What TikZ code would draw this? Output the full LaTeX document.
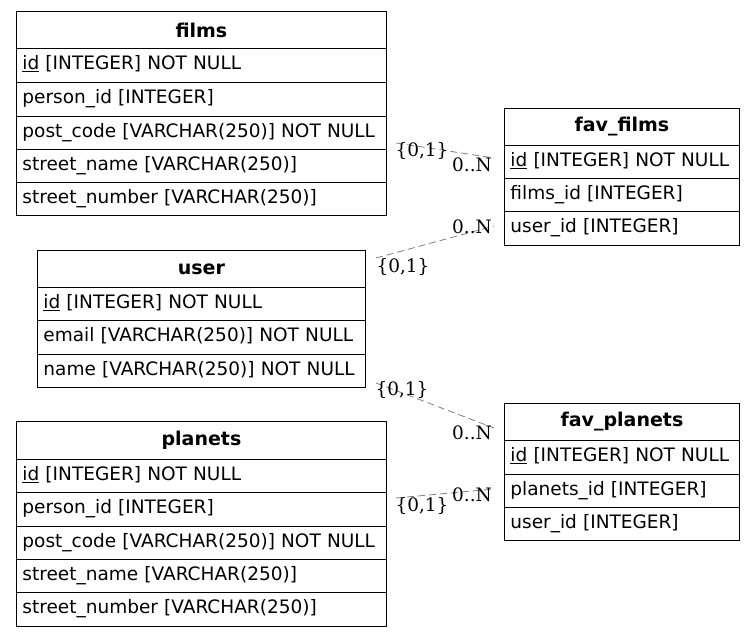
\documentclass[tikz,border=0pt]{standalone}
\usepackage{fontspec}
\setmainfont{DejaVu Sans}
\newfontfamily\lblfont{DejaVu Serif}
\begin{document}
\begin{tikzpicture}[x=1pt,y=-1pt,
  cell/.style={draw=black,line width=0.9pt,anchor=north west,inner xsep=6pt,inner ysep=0pt,text height=14pt,text depth=5.4pt,font=\fontsize{18.5}{20}\selectfont,align=left},
  head/.style={draw=black,line width=0.9pt,anchor=north west,inner sep=0pt,font=\bfseries\fontsize{19}{21}\selectfont,align=center},
  rel/.style={draw=gray,line width=0.8pt,dash pattern=on 7pt off 4pt},
  card/.style={font=\lblfont\fontsize{18.5}{20}\selectfont,inner sep=0pt}]
\useasboundingbox (0,0) rectangle (755,636);
\fill[white] (0,0) rectangle (755,636);
% films
\node[head,minimum width=370pt,minimum height=37pt] (filmsH) at (16,11) {films};
\node[cell,text width=358pt,minimum height=34pt] (films1) at (16,48) {\underline{id} [INTEGER] NOT NULL};
\node[cell,text width=358pt,minimum height=34pt] (films2) at (16,82) {person\_id [INTEGER]};
\node[cell,text width=358pt,minimum height=33pt] (films3) at (16,116) {post\_code [VARCHAR(250)] NOT NULL};
\node[cell,text width=358pt,minimum height=33pt] (films4) at (16,149) {street\_name [VARCHAR(250)]};
\node[cell,text width=358pt,minimum height=33pt] (films5) at (16,182) {street\_number [VARCHAR(250)]};
% fav_films
\node[head,minimum width=235pt,minimum height=37pt] (ffH) at (504,108) {fav\_films};
\node[cell,text width=223pt,minimum height=33pt] (ff1) at (504,145) {\underline{id} [INTEGER] NOT NULL};
\node[cell,text width=223pt,minimum height=33pt] (ff2) at (504,178) {films\_id [INTEGER]};
\node[cell,text width=223pt,minimum height=34pt] (ff3) at (504,211) {user\_id [INTEGER]};
% user
\node[head,minimum width=328pt,minimum height=37pt] (userH) at (37,250) {user};
\node[cell,text width=316pt,minimum height=33pt] (user1) at (37,287) {\underline{id} [INTEGER] NOT NULL};
\node[cell,text width=316pt,minimum height=34pt] (user2) at (37,320) {email [VARCHAR(250)] NOT NULL};
\node[cell,text width=316pt,minimum height=33pt] (user3) at (37,354) {name [VARCHAR(250)] NOT NULL};
% planets
\node[head,minimum width=370pt,minimum height=38pt] (plH) at (16,421) {planets};
\node[cell,text width=358pt,minimum height=33pt] (pl1) at (16,459) {\underline{id} [INTEGER] NOT NULL};
\node[cell,text width=358pt,minimum height=34pt] (pl2) at (16,492) {person\_id [INTEGER]};
\node[cell,text width=358pt,minimum height=33pt] (pl3) at (16,526) {post\_code [VARCHAR(250)] NOT NULL};
\node[cell,text width=358pt,minimum height=33pt] (pl4) at (16,559) {street\_name [VARCHAR(250)]};
\node[cell,text width=358pt,minimum height=34pt] (pl5) at (16,592) {street\_number [VARCHAR(250)]};
% fav_planets
\node[head,minimum width=235pt,minimum height=37pt] (fpH) at (504,403) {fav\_planets};
\node[cell,text width=223pt,minimum height=34pt] (fp1) at (504,440) {\underline{id} [INTEGER] NOT NULL};
\node[cell,text width=223pt,minimum height=33pt] (fp2) at (504,474) {planets\_id [INTEGER]};
\node[cell,text width=223pt,minimum height=33pt] (fp3) at (504,507) {user\_id [INTEGER]};
% connector end points
\coordinate (e1a) at (396,143); \coordinate (e1b) at (494,158);
\coordinate (e2a) at (376,258); \coordinate (e2b) at (494,226);
\coordinate (e3a) at (376,383); \coordinate (e3b) at (494,428);
\coordinate (e4a) at (396,498); \coordinate (e4b) at (494,489);
\draw[rel] (e1a) -- (e1b);
\draw[rel] (e2a) -- (e2b);
\draw[rel] (e3a) -- (e3b);
\draw[rel] (e4a) -- (e4b);
% cardinalities
\node[card] (c1a) at (422,151) {\{0,1\}};
\node[card] (c1b) at (472,165) {0..N};
\node[card] (c2a) at (403,267) {\{0,1\}};
\node[card] (c2b) at (472,227) {0..N};
\node[card] (c3a) at (402,390) {\{0,1\}};
\node[card] (c3b) at (472,433) {0..N};
\node[card] (c4a) at (422,506) {\{0,1\}};
\node[card] (c4b) at (472,495) {0..N};
\end{tikzpicture}
\end{document}
